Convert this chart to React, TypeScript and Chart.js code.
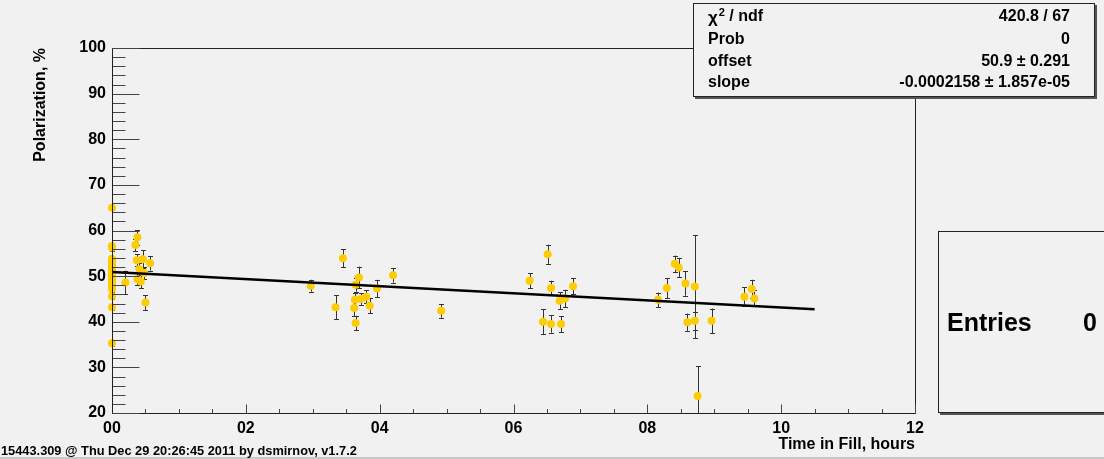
import React, { useEffect, useRef } from 'react';
import { Chart, registerables } from 'chart.js';

Chart.register(...registerables);

// ---- data ----
const timeHours = [
  0, 0, 0, 0, 0, 0, 0, 0, 0, 0, 0, 0, 0, 0, 0, 0, 0, 0, 0, 0, 0, 0,
  0.2, 0.38, 0.35, 0.37, 0.46, 0.57, 0.41, 0.48, 0.38, 0.43, 0.5,
  2.97, 3.45, 3.34, 3.69, 3.64, 3.63, 3.62, 3.64, 3.72, 3.8, 3.85, 3.96, 4.2, 4.92,
  6.24, 6.51, 6.56, 6.69, 6.77, 6.89, 6.44, 6.56, 6.71,
  8.16, 8.29, 8.41, 8.47, 8.57, 8.71, 8.6, 8.71, 8.96, 8.75, 9.45, 9.56, 9.6,
];
const polarization = [
  65.0, 56.6, 56.2, 53.8, 53.2, 52.5, 52.0, 51.5, 51.2, 50.8, 50.5, 50.2, 49.8, 49.4, 49.0, 48.6, 48.2, 47.8, 47.2, 45.6, 43.2, 35.3,
  48.6, 58.5, 56.8, 53.5, 53.7, 52.8, 51.5, 50.7, 49.3, 48.8, 44.2,
  47.9, 53.9, 43.2, 49.7, 48.1, 44.8, 43.0, 39.7, 45.0, 45.5, 43.5, 47.3, 50.2, 42.4,
  49.0, 54.8, 47.4, 44.6, 45.1, 47.8, 40.0, 39.5, 39.5,
  44.8, 47.4, 52.7, 51.9, 48.4, 47.7, 39.9, 40.2, 40.2, 23.7, 45.5, 47.2, 45.1,
];
const polErr = [
  0.6, 0.6, 0.6, 0.6, 0.6, 0.6, 0.6, 0.6, 0.6, 0.6, 0.6, 0.6, 0.6, 0.6, 0.6, 0.6, 0.6, 0.6, 0.6, 0.6, 0.6, 0.6,
  2.6, 1.6, 1.3, 1.3, 2.0, 1.6, 1.3, 1.3, 1.3, 1.5, 1.6,
  1.3, 2.0, 2.6, 2.4, 1.5, 1.5, 1.8, 1.6, 1.3, 1.4, 1.6, 1.9, 1.6, 1.5,
  1.6, 2.1, 1.6, 1.9, 1.9, 1.8, 2.7, 1.9, 1.75,
  1.6, 2.2, 1.8, 2.1, 2.7, 11.3, 1.9, 1.9, 2.7, 6.6, 2.1, 2.0, 1.75,
];
const fitTime = [0, 10.5];
const fitPol = [50.9, 42.74];

const xTickValues = [0, 2, 4, 6, 8, 10, 12];
const xTickLabels = ['00', '02', '04', '06', '08', '10', '12'];
const xMinorStep = 0.5;
const yTickValues = [20, 30, 40, 50, 60, 70, 80, 90, 100];
const yTickLabels = ['20', '30', '40', '50', '60', '70', '80', '90', '100'];
const yMinorStep = 2;

const statsLabels = ['ndf', 'Prob', 'offset', 'slope'];
const statsValues = ['420.8 / 67', '0', '50.9 \u00b1 0.291', '-0.0002158 \u00b1 1.857e-05'];
const entriesLabel = 'Entries';
const entriesValue = '0';
const footerText = '15443.309 @ Thu Dec 29 20:26:45 2011 by dsmirnov, v1.7.2';

const BG = '#f1f1f1';
const FONT = '"Liberation Sans", Arial, Helvetica, sans-serif';

const rootPlugin = {
  id: 'rootStyle',
  beforeDraw(chart: any) {
    const ctx = chart.ctx;
    ctx.save();
    ctx.fillStyle = BG;
    ctx.fillRect(0, 0, chart.width, chart.height);
    ctx.fillStyle = '#c8c8c8';
    ctx.fillRect(0, chart.height - 2, chart.width, 2);
    ctx.restore();
  },
  beforeDatasetsDraw(chart: any) {
    const ctx = chart.ctx;
    const xs = chart.scales.x;
    const ys = chart.scales.y;
    const a = chart.chartArea;
    ctx.save();
    ctx.beginPath();
    ctx.rect(a.left - 4, a.top, a.right - a.left + 4, a.bottom - a.top + 1);
    ctx.clip();
    ctx.strokeStyle = '#333';
    ctx.lineWidth = 1;
    for (let i = 0; i < timeHours.length; i++) {
      const px = Math.round(xs.getPixelForValue(timeHours[i])) + 0.5;
      const y1 = ys.getPixelForValue(polarization[i] + polErr[i]);
      const y2 = ys.getPixelForValue(polarization[i] - polErr[i]);
      ctx.beginPath();
      ctx.moveTo(px, y1);
      ctx.lineTo(px, y2);
      ctx.moveTo(px - 2.5, Math.round(y1) + 0.5);
      ctx.lineTo(px + 2.5, Math.round(y1) + 0.5);
      ctx.moveTo(px - 2.5, Math.round(y2) + 0.5);
      ctx.lineTo(px + 2.5, Math.round(y2) + 0.5);
      ctx.stroke();
    }
    ctx.restore();
  },
  afterDatasetsDraw(chart: any) {
    const ctx = chart.ctx;
    const xs = chart.scales.x;
    const ys = chart.scales.y;
    const a = chart.chartArea;
    const L = Math.round(a.left) + 0.5;
    const R = Math.round(a.right) + 0.5;
    const T = Math.round(a.top) + 0.5;
    const B = Math.round(a.bottom) + 0.5;
    ctx.save();
    ctx.lineWidth = 1;
    ctx.strokeStyle = '#222';
    ctx.beginPath();
    ctx.moveTo(L, T);
    ctx.lineTo(R, T);
    ctx.lineTo(R, B);
    ctx.moveTo(L, B);
    ctx.lineTo(R, B);
    ctx.stroke();
    ctx.strokeStyle = '#444';
    ctx.beginPath();
    // x ticks
    for (let v = xs.min; v <= xs.max + 1e-9; v += xMinorStep) {
      const px = Math.round(xs.getPixelForValue(v)) + 0.5;
      const major = xTickValues.some((t) => Math.abs(t - v) < 1e-6);
      ctx.moveTo(px, B);
      ctx.lineTo(px, B - (major ? 9 : 4.5));
    }
    // y ticks
    for (let v = ys.min; v <= ys.max + 1e-9; v += yMinorStep) {
      const py = Math.round(ys.getPixelForValue(v)) + 0.5;
      const major = yTickValues.some((t) => Math.abs(t - v) < 1e-6);
      ctx.moveTo(L, py);
      ctx.lineTo(L + (major ? 27 : 13), py);
    }
    ctx.stroke();
    ctx.restore();
  },
  afterDraw(chart: any) {
    const ctx = chart.ctx;
    const a = chart.chartArea;
    ctx.save();
    // left axis line drawn over points at x = 0 (as ROOT draws axes last)
    const L = Math.round(a.left) + 0.5;
    ctx.strokeStyle = '#222';
    ctx.lineWidth = 1;
    ctx.beginPath();
    ctx.moveTo(L, Math.round(a.top) + 0.5);
    ctx.lineTo(L, Math.round(a.bottom) + 0.5);
    ctx.stroke();
    // stats box
    const bx = 693, by = 3, bw = 402, bh = 94;
    ctx.fillStyle = '#555';
    ctx.fillRect(bx + 2, by + 2, bw, bh);
    ctx.fillStyle = BG;
    ctx.fillRect(bx, by, bw, bh);
    ctx.strokeStyle = '#222';
    ctx.strokeRect(bx + 0.5, by + 0.5, bw - 1, bh - 1);
    ctx.fillStyle = '#000';
    ctx.font = `bold 16px ${FONT}`;
    ctx.textBaseline = 'middle';
    const rowsY = [17, 40, 62, 83];
    statsLabels.forEach((lab, i) => {
      ctx.textAlign = 'left';
      if (i === 0) {
        ctx.font = `bold 17px ${FONT}`;
        ctx.fillText('\u03c7', 708, rowsY[i] + 1);
        const w = ctx.measureText('\u03c7').width;
        ctx.font = `bold 11px ${FONT}`;
        ctx.fillText('2', 708 + w + 1, rowsY[i] - 4);
        const w2 = ctx.measureText('2').width;
        ctx.font = `bold 16px ${FONT}`;
        ctx.fillText(' / ' + lab, 708 + w + w2 + 1, rowsY[i]);
      } else {
        ctx.fillText(lab, 708, rowsY[i]);
      }
      ctx.textAlign = 'right';
      ctx.fillText(statsValues[i], 1070, rowsY[i]);
    });
    // entries box
    const ex = 938, ey = 231, ew = 200, eh = 182;
    ctx.fillStyle = '#555';
    ctx.fillRect(ex + 2, ey + 2, ew, eh);
    ctx.fillStyle = BG;
    ctx.fillRect(ex, ey, ew, eh);
    ctx.strokeStyle = '#222';
    ctx.strokeRect(ex + 0.5, ey + 0.5, ew, eh - 1);
    ctx.fillStyle = '#000';
    ctx.font = `bold 25px ${FONT}`;
    ctx.textAlign = 'left';
    ctx.fillText(entriesLabel, 947, 324);
    ctx.textAlign = 'right';
    ctx.fillText(entriesValue, 1097, 324);
    // footer
    ctx.font = `bold 12.8px ${FONT}`;
    ctx.textAlign = 'left';
    ctx.fillText(footerText, 1, 451);
    ctx.restore();
  },
};

export default function App() {
  const ref = useRef<HTMLCanvasElement>(null);
  useEffect(() => {
    const points = timeHours.map((x, i) => ({ x, y: polarization[i] }));
    const fit = fitTime.map((x, i) => ({ x, y: fitPol[i] }));
    const tickFont = { family: FONT, size: 16, weight: 'bold' as const };
    const chart = new Chart(ref.current!, {
      type: 'scatter',
      data: {
        datasets: [
          {
            type: 'line',
            label: 'fit',
            data: fit,
            borderColor: '#000',
            borderWidth: 2.6,
            pointRadius: 0,
            fill: false,
            order: 0,
          } as any,
          {
            type: 'scatter',
            label: 'polarization',
            data: points,
            backgroundColor: '#ffcc00',
            borderWidth: 0,
            pointRadius: 4,
            clip: 6,
            order: 1,
          } as any,
        ],
      },
      options: {
        animation: false,
        responsive: true,
        maintainAspectRatio: false,
        layout: { padding: { left: 0, top: 48, right: 189, bottom: 0 } },
        plugins: { legend: { display: false }, tooltip: { enabled: false } },
        scales: {
          x: {
            type: 'linear',
            min: 0,
            max: 12,
            grid: { display: false, drawTicks: false },
            border: { display: false },
            ticks: {
              stepSize: 2,
              padding: 6,
              color: '#000',
              font: tickFont,
              autoSkip: false,
              maxRotation: 0,
              callback: (v: any) => {
                const i = xTickValues.indexOf(Number(v));
                return i >= 0 ? xTickLabels[i] : '';
              },
            },
            title: {
              display: true,
              text: 'Time in Fill, hours',
              align: 'end',
              color: '#000',
              font: tickFont,
              padding: { top: 0, bottom: 5 },
            },
            afterFit: (s: any) => {
              s.height = 46;
            },
          },
          y: {
            type: 'linear',
            min: 20,
            max: 100,
            grid: { display: false, drawTicks: false },
            border: { display: false },
            ticks: {
              stepSize: 10,
              padding: 6,
              color: '#000',
              font: tickFont,
              autoSkip: false,
              callback: (v: any) => {
                const i = yTickValues.indexOf(Number(v));
                return i >= 0 ? yTickLabels[i] : '';
              },
            },
            title: {
              display: true,
              text: 'Polarization, %',
              align: 'end',
              color: '#000',
              font: tickFont,
              padding: { top: 31, bottom: 0 },
            },
            afterFit: (s: any) => {
              s.width = 112;
            },
          },
        },
      },
      plugins: [rootPlugin],
    });
    return () => chart.destroy();
  }, []);
  return (
    <div style={{ position: 'fixed', left: 0, top: 0, width: 1104, height: 459 }}>
      <canvas ref={ref} />
    </div>
  );
}
